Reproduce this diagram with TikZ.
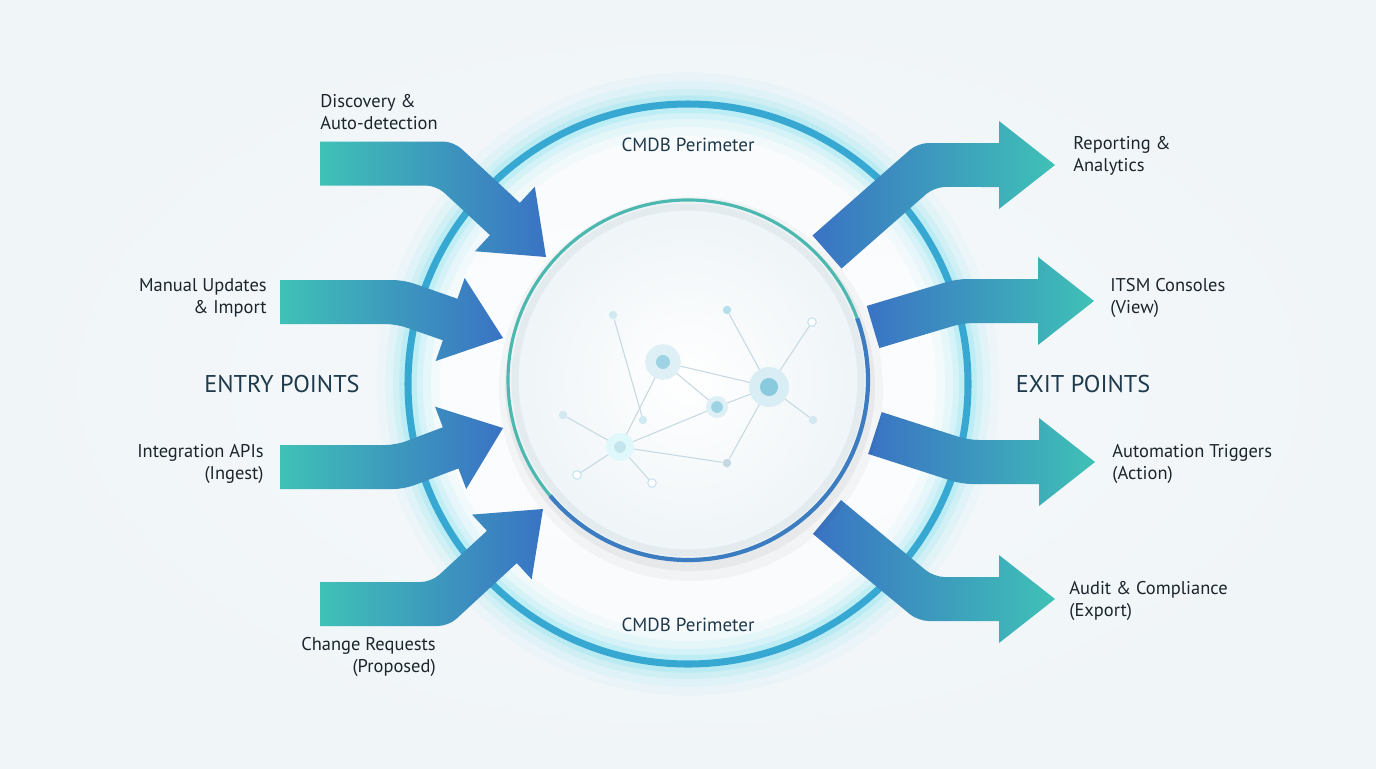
\documentclass[tikz,border=0pt]{standalone}
\usepackage{fontspec}
\setmainfont{PT Sans}
\usepackage{xcolor}
\definecolor{cTeal}{HTML}{3FC1B6}
\definecolor{cBlue}{HTML}{3A73C4}
\definecolor{cRing}{HTML}{37A8D2}
\definecolor{cGlow}{HTML}{7FE3F0}
\definecolor{cBg}{HTML}{F0F5F8}
\definecolor{cText}{HTML}{1C252C}
\definecolor{cHead}{HTML}{1E3A4C}
\definecolor{cRimA}{HTML}{4DB8B0}
\definecolor{cRimB}{HTML}{3C7DC2}
\definecolor{cDisk}{HTML}{EEF4F7}
\definecolor{cBevel}{HTML}{DCE4E9}
\definecolor{cNet}{HTML}{7CC4DA}
\definecolor{cEdge}{HTML}{C6D9E2}
\usepackage{tikz}
\usetikzlibrary{calc}
\tikzset{
  arrow-in/.style={left color=cTeal,right color=cBlue},
  arrow-out/.style={left color=cBlue,right color=cTeal},
  label-l/.style={anchor=west,align=left,inner sep=0pt,text=cText,
    font=\fontsize{10.5}{12.6}\selectfont},
  label-r/.style={anchor=east,align=right,inner sep=0pt,text=cText,
    font=\fontsize{10.5}{12.6}\selectfont},
  side-title/.style={inner sep=0pt,text=cHead,font=\fontsize{13.8}{16}\selectfont},
  perimeter/.style={inner sep=0pt,text=cHead,font=\fontsize{10.8}{13}\selectfont},
  net-hub/.style={circle,inner sep=0pt,fill=cNet!75,draw=cNet!25},
  net-dot/.style={circle,inner sep=0pt,minimum size=0.17cm,fill=cNet!35},
  net-hollow/.style={circle,inner sep=0pt,minimum size=0.17cm,draw=cNet!45,line width=0.6pt,fill=white},
  net-edge/.style={draw=cEdge,line width=0.6pt},
}
% block arrow: style, tail, bend, tip (shaft 22px half width, head 44px, head length 56px)
\newcommand{\blockarrow}[4]{%
  \coordinate (bS) at #2;
  \coordinate (bK) at #3;
  \coordinate (bT) at #4;
  \coordinate (bE) at ($(bT)!1.12cm!(bK)$);
  \coordinate (bSu) at ($(bS)!0.44cm!90:(bK)$);
  \coordinate (bSl) at ($(bS)!0.44cm!-90:(bK)$);
  \coordinate (bKu1) at ($(bK)!0.44cm!-90:(bS)$);
  \coordinate (bKl1) at ($(bK)!0.44cm!90:(bS)$);
  \coordinate (bKu2) at ($(bK)!0.44cm!90:(bT)$);
  \coordinate (bKl2) at ($(bK)!0.44cm!-90:(bT)$);
  \coordinate (bEu) at ($(bE)!0.44cm!90:(bT)$);
  \coordinate (bEl) at ($(bE)!0.44cm!-90:(bT)$);
  \coordinate (bHu) at ($(bE)!0.88cm!90:(bT)$);
  \coordinate (bHl) at ($(bE)!0.88cm!-90:(bT)$);
  \coordinate (bMu) at (intersection of bSu--bKu1 and bKu2--bEu);
  \coordinate (bMl) at (intersection of bSl--bKl1 and bKl2--bEl);
  \path[#1] (bSu) [rounded corners=6pt] -- (bMu) [sharp corners] -- (bEu) -- (bHu)
    -- (bT) -- (bHl) -- (bEl) [rounded corners=6pt] -- (bMl) [sharp corners] -- (bSl) -- cycle;
}

\begin{document}
\begin{tikzpicture}[x=0.02cm,y=0.02cm]
  \useasboundingbox (0,0) rectangle (1376,-768);
  \shade[inner color=white!45!cBg,outer color=cBg] (0,0) rectangle (1376,-768);

  % perimeter ring
  \coordinate (core) at (688,-384);
  \fill[white,opacity=0.6] (core) circle[radius=280];
  \foreach \w/\o in {36pt/0.06,26pt/0.10,17pt/0.16,10pt/0.25}{
    \draw[cGlow,line width=\w,opacity=\o] (core) circle[radius=280];
  }
  \draw[cRing,line width=4pt] (core) circle[radius=280];

  % entry points
  \blockarrow{arrow-in}{(320,-163.5)}{(445,-163.5)}{(546,-257)}
  \blockarrow{arrow-in}{(280,-302)}{(400,-302)}{(503,-338)}
  \blockarrow{arrow-in}{(280,-467)}{(400,-467)}{(503,-428)}
  \blockarrow{arrow-in}{(320,-604)}{(440,-604)}{(543,-509)}

  % exit points
  \blockarrow{arrow-out}{(827,-252)}{(926,-165)}{(1055,-165)}
  \blockarrow{arrow-out}{(873,-327)}{(960,-301)}{(1094,-301)}
  \blockarrow{arrow-out}{(875,-433)}{(965,-462)}{(1095,-462)}
  \blockarrow{arrow-out}{(827,-517)}{(926,-599)}{(1055,-599)}

  % CMDB core disk
  \coordinate (db) at (688,-380);
  \fill[black,opacity=0.03] ($(db)+(3,-9)$) circle[radius=192];
  \fill[black,opacity=0.045] ($(db)+(2,-6)$) circle[radius=185];
  \shade[inner color=white,outer color=cDisk] (db) circle[radius=180];
  \draw[cBevel,line width=4pt,opacity=0.55] (db) circle[radius=173];
  \draw[cRimA,line width=1.8pt] (db) ++(20:180) arc[start angle=20,end angle=220,radius=180];
  \draw[cRimB,line width=2.4pt] (db) ++(220:180) arc[start angle=220,end angle=380,radius=180];

  % network inside the core
  \node[net-hub,minimum size=0.5cm,line width=6pt] (hA) at (663,-362) {};
  \node[net-hub,minimum size=0.58cm,line width=6.2pt,fill=cNet!90,draw=cNet!30] (hB) at (769,-387) {};
  \node[net-hub,minimum size=0.34cm,line width=2.8pt] (hC) at (717,-407) {};
  \node[net-hub,minimum size=0.4cm,line width=4.5pt,fill=cNet!45,draw=cGlow!25] (hD) at (620,-447) {};
  \node[net-dot] (n1) at (613,-315) {};
  \node[net-dot,fill=cNet!55] (n2) at (727,-310) {};
  \node[net-hollow] (n3) at (812,-322) {};
  \node[net-dot] (n4) at (563,-415) {};
  \node[net-dot] (n5) at (643,-420) {};
  \node[net-dot] (n6) at (813,-420) {};
  \node[net-dot,fill=cEdge] (n7) at (727,-463) {};
  \node[net-hollow] (n8) at (577,-475) {};
  \node[net-hollow] (n9) at (652,-483) {};
  \draw[net-edge] (hA) -- (hB);
  \draw[net-edge] (hA) -- (hC);
  \draw[net-edge] (hC) -- (hB);
  \draw[net-edge] (hA) -- (hD);
  \draw[net-edge] (hD) -- (hC);
  \draw[net-edge] (hD) -- (n4);
  \draw[net-edge] (hD) -- (n7);
  \draw[net-edge] (hD) -- (n8);
  \draw[net-edge] (hD) -- (n9);
  \draw[net-edge] (n1) -- (n5);
  \draw[net-edge] (n2) -- (hB);
  \draw[net-edge] (n3) -- (hB);
  \draw[net-edge] (n6) -- (hB);
  \draw[net-edge] (n7) -- (hB);

  % labels
  \node[perimeter] (perTop) at (688,-145) {CMDB Perimeter};
  \node[perimeter] (perBot) at (688,-625) {CMDB Perimeter};
  \node[side-title] (entry) at (282,-384) {ENTRY POINTS};
  \node[side-title] (exit) at (1083,-384) {EXIT POINTS};
  \node[label-l] (lDisc) at (320,-112) {Discovery \&\\Auto-detection};
  \node[label-r] (lMan) at (267,-298) {Manual Updates\\\& Import};
  \node[label-r] (lInt) at (264,-464) {Integration APIs\\(Ingest)};
  \node[label-r] (lChg) at (436,-657) {Change Requests\\(Proposed)};
  \node[label-l] (lRep) at (1073,-156) {Reporting \&\\Analytics};
  \node[label-l] (lItsm) at (1110,-298) {ITSM Consoles\\(View)};
  \node[label-l] (lAuto) at (1112,-464) {Automation Triggers\\(Action)};
  \node[label-l] (lAud) at (1069,-601) {Audit \& Compliance\\(Export)};
\end{tikzpicture}
\end{document}
